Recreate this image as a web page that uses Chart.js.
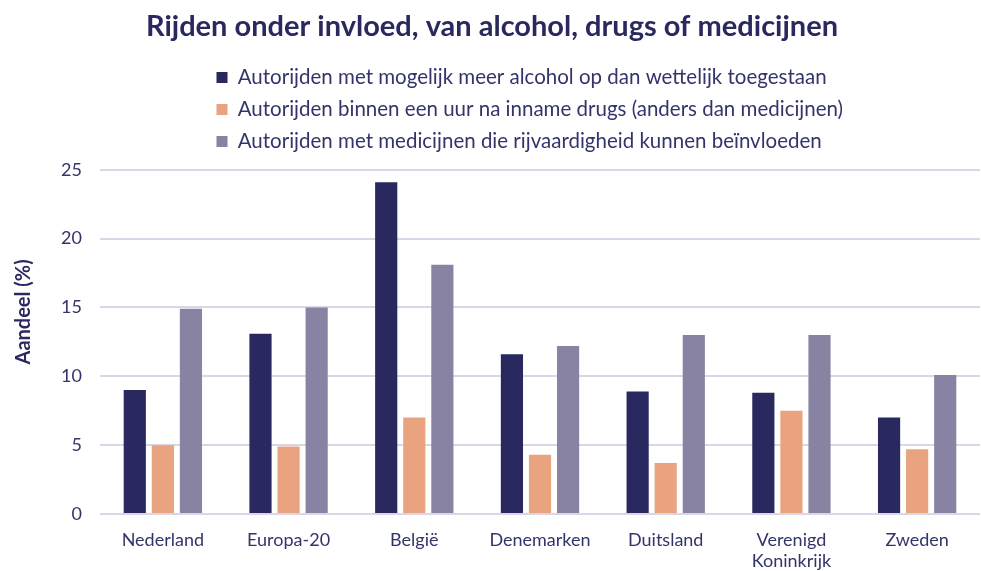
<!DOCTYPE html>
<html>
<head>
<meta charset="utf-8">
<script src="https://cdn.jsdelivr.net/npm/chart.js@4.4.1/dist/chart.umd.min.js"></script>
<style>
  html, body { margin: 0; padding: 0; background: #ffffff; }
  #wrap { width: 981px; height: 571px; position: relative; }
</style>
</head>
<body>
<div id="wrap"><canvas id="c"></canvas></div>
<script>
const categories = ["Nederland", "Europa-20", "België", "Denemarken", "Duitsland", ["Verenigd", "Koninkrijk"], "Zweden"];
const seriesNames = [
  "Autorijden met mogelijk meer alcohol op dan wettelijk toegestaan",
  "Autorijden binnen een uur na inname drugs (anders dan medicijnen)",
  "Autorijden met medicijnen die rijvaardigheid kunnen beïnvloeden"
];
const alcohol = [9.0, 13.1, 24.1, 11.6, 8.9, 8.8, 7.0];
const drugs = [5.0, 4.9, 7.0, 4.3, 3.7, 7.5, 4.7];
const medicijnen = [14.9, 15.0, 18.1, 12.2, 13.0, 13.0, 10.1];
const yTicks = [0, 5, 10, 15, 20, 25];
const yTitle = "Aandeel (%)";

const navy = "#29295f";
const textCol = "#34346c";
const colors = ["#29295f", "#e9a47f", "#8883a3"];
const FONT = "Lato, 'Open Sans', sans-serif";

// shifts the legend block so its rows start at the same left edge as in the reference
const legendShift = {
  id: 'legendShift',
  afterLayout(chart) {
    const lg = chart.legend;
    if (lg) { const w = lg.width; lg.left = 205; lg.right = lg.left + w; }
  }
};

// an empty layout box between legend and plot area (vertical gap)
const spacer = {
  id: 'spacer',
  beforeInit(chart) {
    Chart.layouts.addBox(chart, {
      position: 'top', weight: 0, fullSize: true, options: {},
      top: 0, left: 0, right: 0, bottom: 0, width: 0, height: 0,
      isHorizontal() { return true; },
      update(maxWidth) { this.width = maxWidth; this.height = 8; },
      draw() {}
    });
  }
};

// y-axis title, placed slightly above the axis centre as in the reference
const yAxisTitle = {
  id: 'yAxisTitle',
  afterDraw(chart) {
    const ctx = chart.ctx;
    const y = chart.scales.y;
    const cy = (y.top + y.bottom) / 2 - 30;
    ctx.save();
    ctx.translate(24, cy);
    ctx.rotate(-Math.PI / 2);
    ctx.font = "bold 20px " + FONT;
    ctx.fillStyle = navy;
    ctx.textAlign = 'center';
    ctx.textBaseline = 'middle';
    ctx.fillText(yTitle, 0, 0);
    ctx.restore();
  }
};

new Chart(document.getElementById('c'), {
  type: 'bar',
  data: {
    labels: categories,
    datasets: [
      { label: seriesNames[0], data: alcohol, backgroundColor: colors[0] },
      { label: seriesNames[1], data: drugs, backgroundColor: colors[1] },
      { label: seriesNames[2], data: medicijnen, backgroundColor: colors[2] }
    ]
  },
  options: {
    responsive: true,
    maintainAspectRatio: false,
    animation: false,
    devicePixelRatio: 1,
    layout: { padding: { left: 4, right: 1, top: 8, bottom: 0 } },
    datasets: { bar: { categoryPercentage: 0.67, barPercentage: 0.79 } },
    plugins: {
      title: {
        display: true,
        text: "Rijden onder invloed, van alcohol, drugs of medicijnen",
        color: navy,
        font: { family: FONT, size: 29, weight: 'bold' },
        padding: { top: 1, bottom: 12 }
      },
      legend: {
        position: 'top',
        align: 'start',
        labels: {
          color: textCol,
          font: { family: FONT, size: 20.5 },
          boxWidth: 11,
          boxHeight: 11,
          padding: 11.5
        }
      },
      tooltip: { enabled: false }
    },
    scales: {
      x: {
        grid: { display: false, drawTicks: false },
        border: { display: false },
        ticks: { color: textCol, font: { family: FONT, size: 18 }, maxRotation: 0, padding: 15 },
        afterFit(scale) { scale.height = 57; }
      },
      y: {
        min: 0, max: 25,
        afterBuildTicks(axis) { axis.ticks = yTicks.map(v => ({ value: v })); },
        afterFit(scale) { scale.width = 96; },
        grid: { color: "#d9d7e7", lineWidth: 2, drawTicks: false },
        border: { display: false },
        ticks: { color: textCol, font: { family: FONT, size: 18 }, padding: 18 },
        title: { display: false, text: yTitle }
      }
    }
  },
  plugins: [legendShift, spacer, yAxisTitle]
});
</script>
</body>
</html>
